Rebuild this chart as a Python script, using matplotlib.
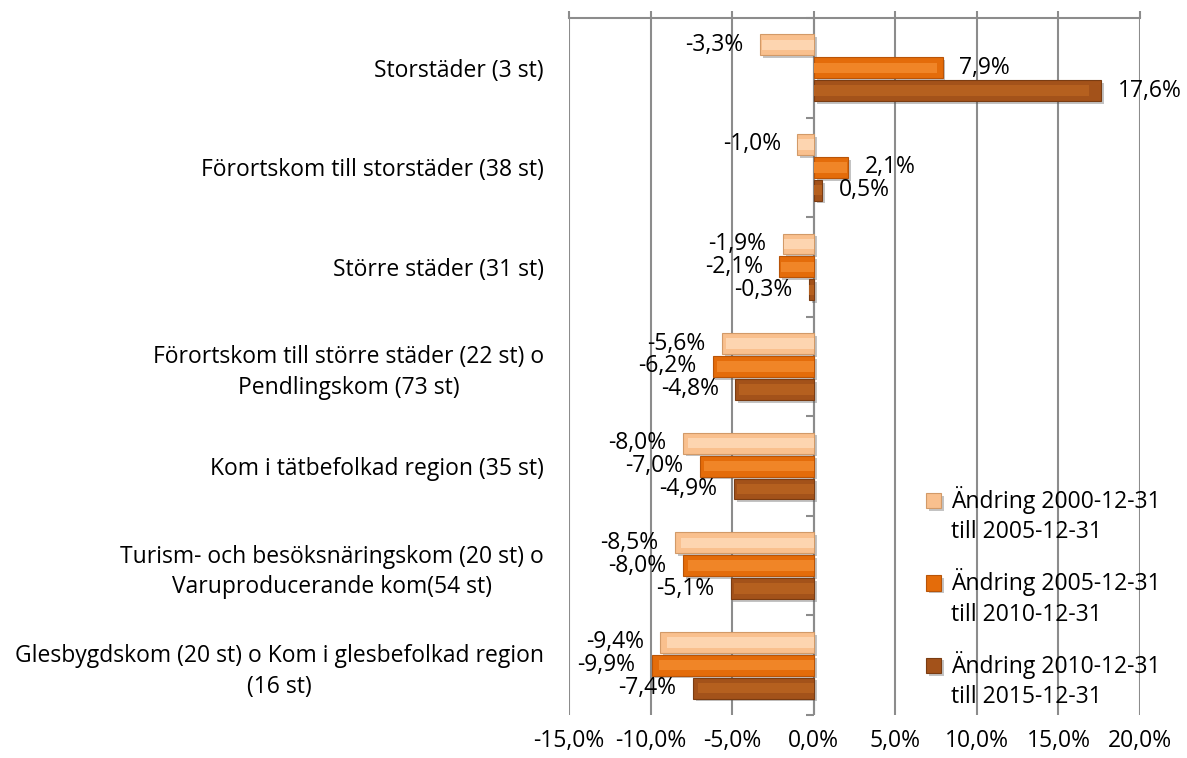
import numpy as np
import matplotlib.pyplot as plt
from matplotlib import patheffects as pe
from matplotlib.container import BarContainer
from matplotlib.legend_handler import HandlerPatch
from matplotlib.patches import Rectangle

# Data
categories = [
    "Storstäder (3 st)",
    "Förortskom till storstäder (38 st)",
    "Större städer (31 st)",
    "Förortskom till större städer (22 st) o\nPendlingskom (73 st)",
    "Kom i tätbefolkad region (35 st)",
    "Turism- och besöksnäringskom (20 st) o\nVaruproducerande kom(54 st)",
    "Glesbygdskom (20 st) o Kom i glesbefolkad region\n(16 st)",
]
series_names = [
    "Ändring 2000-12-31\ntill 2005-12-31",
    "Ändring 2005-12-31\ntill 2010-12-31",
    "Ändring 2010-12-31\ntill 2015-12-31",
]
change_2000_2005 = [-3.3, -1.0, -1.9, -5.6, -8.0, -8.5, -9.4]
change_2005_2010 = [7.9, 2.1, -2.1, -6.2, -7.0, -8.0, -9.9]
change_2010_2015 = [17.6, 0.5, -0.3, -4.8, -4.9, -5.1, -7.4]
x_ticks = [-15, -10, -5, 0, 5, 10, 15, 20]

# Stil
plt.rcParams['font.family'] = ['Open Sans', 'DejaVu Sans']
FS = 16.5
LS = 1.35
grid_col = '#8c8c8c'
face_cols = ['#F9C08E', '#E46C0A', '#A3521A']
inner_cols = ['#FDD5B0', '#F08527', '#B5601F']
edge_cols = ['#D29A68', '#B85408', '#7A3C12']


def fmt(v):
    return f"{v:.1f}%".replace('.', ',')


# legendruta i hojd med forsta textraden
def top_square(legend, orig_handle, xdescent, ydescent, width, height, fontsize):
    return Rectangle((-xdescent, -ydescent + fontsize * LS * 0.5), width, height)


def from_first_bar(tgt, src):
    tgt.update_from(src.patches[0])


fig = plt.figure(figsize=(11.87, 7.58), dpi=100)
ax = fig.add_axes([0.4794, 0.0567, 0.4810, 0.9196])

y = np.arange(len(categories))
offsets = [-0.23, 0.0, 0.23]
height = 0.21
all_series = [change_2000_2005, change_2005_2010, change_2010_2015]

labels_drawn = []
for k, vals in enumerate(all_series):
    pos = y + offsets[k]
    bars = ax.barh(pos, vals, height=height, color=face_cols[k],
                   edgecolor=edge_cols[k], linewidth=0.8, zorder=3,
                   label=series_names[k])
    for b in bars:
        b.set_path_effects([pe.SimplePatchShadow(offset=(2, -2), alpha=0.35, shadow_rgbFace='#555555'),
                            pe.Normal()])
    # ljusare mittparti for bevel-kansla
    ax.barh(pos, np.array(vals) * 0.96, height=height * 0.5, color=inner_cols[k],
            linewidth=0, zorder=4)
    for p, v in zip(pos, vals):
        if v >= 0:
            t = ax.annotate(fmt(v), (v, p), xytext=(12, 0), textcoords='offset points',
                            ha='left', va='center', fontsize=FS, zorder=6)
        else:
            t = ax.annotate(fmt(v), (v, p), xytext=(-12, 0), textcoords='offset points',
                            ha='right', va='center', fontsize=FS, zorder=6)
        labels_drawn.append(t)

ax.set_xlim(-15, 20)
ax.set_ylim(len(categories) - 0.5, -0.5)
ax.set_xticks(x_ticks)
ax.set_xticklabels([fmt(v) for v in x_ticks], fontsize=FS)
ax.xaxis.grid(True, color=grid_col, linewidth=1.5, zorder=0)
ax.set_axisbelow(True)

ax.tick_params(axis='x', top=True, bottom=False, labeltop=False, labelbottom=True,
               direction='out', length=5, width=1.5, color=grid_col, pad=5)
ax.set_yticks(y)
ax.set_yticklabels(categories, fontsize=FS, multialignment='center', linespacing=LS)
ax.tick_params(axis='y', length=0, pad=18)

for s in ['left', 'right', 'bottom']:
    ax.spines[s].set_visible(False)
ax.spines['top'].set_color(grid_col)
ax.spines['top'].set_linewidth(1.5)

# nollaxel med kategorimarkeringar
ax.axvline(0, color=grid_col, linewidth=1.5, zorder=2)
bounds = np.arange(len(categories) + 1) - 0.5
ax.plot(np.zeros_like(bounds), bounds, linestyle='none', marker=0,
        markersize=6, markeredgewidth=1.5, color=grid_col, zorder=2, clip_on=False)

leg = ax.legend(loc='upper left', bbox_to_anchor=(0.605, 0.345), frameon=False,
                fontsize=FS, handlelength=0.65, handleheight=0.65, handletextpad=0.45,
                labelspacing=1.05, borderpad=0,
                handler_map={BarContainer: HandlerPatch(patch_func=top_square,
                                                        update_func=from_first_bar)})
for t in leg.get_texts():
    t.set_linespacing(LS)

# flytta etiketter som hamnar utanfor figuren
fig.canvas.draw()
W = fig.bbox.width
for t in labels_drawn:
    bb = t.get_window_extent()
    if bb.x1 > W - 4:
        shift = (bb.x1 - (W - 6)) * 72 / fig.dpi
        x0, y0 = t.xyann
        t.xyann = (x0 - shift, y0)

fig.savefig('out.png', dpi=100)
